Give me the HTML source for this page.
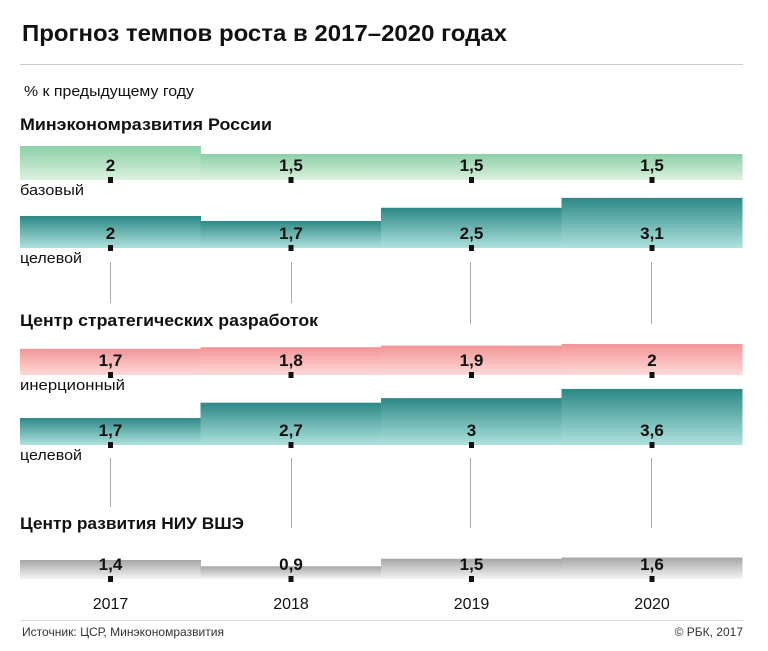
<!DOCTYPE html>
<html><head><meta charset="utf-8">
<style>
body{margin:0;background:#fff;}
svg text{font-family:"Liberation Sans Narrow","Liberation Sans",sans-serif;}
</style></head>
<body>
<svg id="chart" width="768" height="646" viewBox="0 0 768 646" xmlns="http://www.w3.org/2000/svg">
<defs>
<linearGradient id="gGreen" x1="0" y1="0" x2="0" y2="1"><stop offset="0" stop-color="#8ccfa8"/><stop offset="1" stop-color="#dcf1de"/></linearGradient>
<linearGradient id="gTeal" x1="0" y1="0" x2="0" y2="1"><stop offset="0" stop-color="#2c8886"/><stop offset="1" stop-color="#aee2de"/></linearGradient>
<linearGradient id="gPink" x1="0" y1="0" x2="0" y2="1"><stop offset="0" stop-color="#f29596"/><stop offset="1" stop-color="#fddad8"/></linearGradient>
<linearGradient id="gGray" x1="0" y1="0" x2="0" y2="1"><stop offset="0" stop-color="#a6a6a6"/><stop offset="1" stop-color="#f4f4f4"/></linearGradient>
</defs>
<text x="22" y="41" font-size="23" font-weight="bold" fill="#111" textLength="485" lengthAdjust="spacingAndGlyphs">Прогноз темпов роста в 2017–2020 годах</text>
<line x1="20" y1="64.5" x2="743" y2="64.5" stroke="#ccc"/>
<text x="24" y="96" font-size="15" fill="#111" textLength="170" lengthAdjust="spacingAndGlyphs">% к предыдущему году</text>
<text x="20" y="130" font-size="17" font-weight="bold" fill="#111" textLength="252" lengthAdjust="spacingAndGlyphs">Минэкономразвития России</text>
<text x="20" y="326" font-size="17" font-weight="bold" fill="#111" textLength="298" lengthAdjust="spacingAndGlyphs">Центр стратегических разработок</text>
<text x="20" y="529" font-size="17" font-weight="bold" fill="#111" textLength="224" lengthAdjust="spacingAndGlyphs">Центр развития НИУ ВШЭ</text>
<g id="guides" stroke="#aaa" stroke-width="1">
<line x1="110.5" y1="262" x2="110.5" y2="303"/><line x1="291.5" y1="262" x2="291.5" y2="303"/>
<line x1="470.5" y1="262" x2="470.5" y2="324"/><line x1="651.5" y1="262" x2="651.5" y2="324"/>
<line x1="110.5" y1="458" x2="110.5" y2="507"/><line x1="291.5" y1="458" x2="291.5" y2="528"/>
<line x1="470.5" y1="458" x2="470.5" y2="528"/><line x1="651.5" y1="458" x2="651.5" y2="528"/>
</g>
<g id="rows"></g>
<line x1="20" y1="620.5" x2="743" y2="620.5" stroke="#ddd"/>
<text x="22" y="636" font-size="12" fill="#333" textLength="202" lengthAdjust="spacingAndGlyphs">Источник: ЦСР, Минэкономразвития</text>
<text x="743" y="636" font-size="12" fill="#333" text-anchor="end">© РБК, 2017</text>
</svg>
<script>
const years = ["2017","2018","2019","2020"];
const minekBase = [2, 1.5, 1.5, 1.5];
const minekTarget = [2, 1.7, 2.5, 3.1];
const csrInertial = [1.7, 1.8, 1.9, 2];
const csrTarget = [1.7, 2.7, 3, 3.6];
const hseForecast = [1.4, 0.9, 1.5, 1.6];
const valueLabels = ["2","1,5","1,5","1,5","2","1,7","2,5","3,1","1,7","1,8","1,9","2","1,7","2,7","3","3,6","1,4","0,9","1,5","1,6"];

const NS = "http://www.w3.org/2000/svg";
const g = document.getElementById('rows');
const x0 = 20, colW = 180.5;
function xScale(i){ return x0 + i*colW; }
const rows = [
 {vals:minekBase, name:'minek-base', bottom:180, k:16, a:2, fill:'url(#gGreen)', label:'базовый', lw:64},
 {vals:minekTarget, name:'minek-target', bottom:248, k:16.5, a:-1, fill:'url(#gTeal)', label:'целевой', lw:62},
 {vals:csrInertial, name:'csr-inertial', bottom:375, k:16, a:-1, fill:'url(#gPink)', label:'инерционный', lw:105},
 {vals:csrTarget, name:'csr-target', bottom:445, k:15.3, a:1, fill:'url(#gTeal)', label:'целевой', lw:62},
 {vals:hseForecast, name:'hse-forecast', bottom:579, k:12.5, a:1.5, fill:'url(#gGray)', label:null}
];
function mk(tag, attrs){ const e=document.createElementNS(NS,tag); for(const k in attrs) e.setAttribute(k,attrs[k]); return e; }
let li = 0;
rows.forEach((r)=>{
  r.vals.forEach((v,i)=>{
    const h = r.a + r.k*v;
    const rect = mk('rect',{x:xScale(i), y:r.bottom-h, width:colW+0.5, height:h, fill:r.fill});
    
    
    g.appendChild(rect);
    const cx = xScale(i)+90.5;
    const t = mk('text',{x:cx, y:r.bottom-9, 'font-size':17, 'font-weight':'bold', 'text-anchor':'middle', fill:'#111'});
    t.textContent = valueLabels[li++];
    
    
    g.appendChild(t);
    const m = mk('rect',{x:cx-2.5, y:r.bottom-3, width:5, height:6, fill:'#111'});
    
    
    g.appendChild(m);
  });
  if(r.label){
    const l = mk('text',{x:20, y:r.bottom+15, 'font-size':15, fill:'#111', textLength:r.lw, lengthAdjust:'spacingAndGlyphs'});
    l.textContent = r.label;
    
    
    g.appendChild(l);
  }
});
years.forEach((y,i)=>{
  const t = mk('text',{x:xScale(i)+90.5, y:609, 'font-size':16, 'text-anchor':'middle', fill:'#111'});
  t.textContent = y;
  
  
  g.appendChild(t);
});
</script>
</body></html>
